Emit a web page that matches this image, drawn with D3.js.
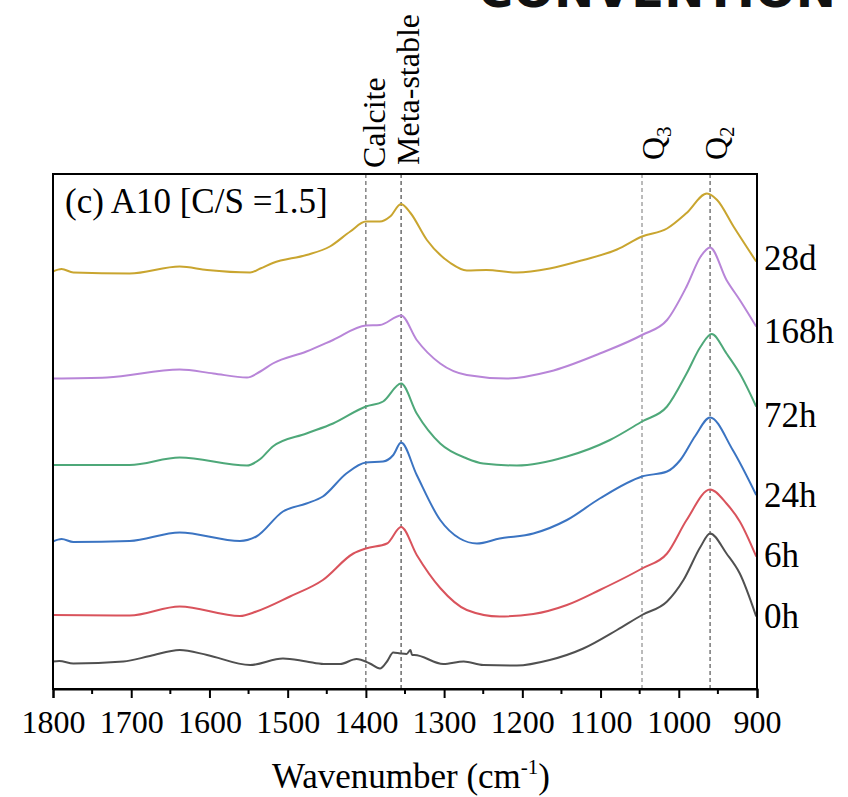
<!DOCTYPE html>
<html>
<head>
<meta charset="utf-8">
<script src="https://cdn.jsdelivr.net/npm/d3@7"></script>
<style>
  html, body { margin: 0; padding: 0; background: #fff; }
  svg { display: block; }
</style>
</head>
<body>
<svg id="chart" width="848" height="797"></svg>
<script>
// FTIR spectra of A10 paste at successive ages, stacked with offsets (a.u.)
// each series: [wavenumber (cm-1), absorbance + stacking offset]
const series0h = [
  [1800, 0.55], [1792, 0.56], [1774, 0.51], [1710, 0.55], [1676, 0.66], [1638, 0.78],
  [1603, 0.68], [1548, 0.48], [1506, 0.61], [1476, 0.55], [1454, 0.50], [1433, 0.50],
  [1412, 0.60], [1395, 0.51], [1382, 0.41], [1373, 0.55], [1365, 0.73], [1356, 0.71],
  [1348, 0.70], [1343, 0.78], [1341, 0.68], [1338, 0.68], [1301, 0.50], [1275, 0.55],
  [1250, 0.48], [1207, 0.47], [1165, 0.58], [1122, 0.81], [1079, 1.18], [1047, 1.48],
  [1015, 1.75], [994, 2.18], [972, 2.85], [960, 3.11], [939, 2.71], [922, 2.31], [901, 1.45]
];
const series6h = [
  [1800, 1.48], [1702, 1.47], [1638, 1.65], [1561, 1.46], [1540, 1.55], [1497, 1.85],
  [1455, 2.18], [1416, 2.71], [1400, 2.81], [1373, 2.91], [1355, 3.24], [1335, 2.68],
  [1305, 2.02], [1271, 1.58], [1229, 1.45], [1186, 1.50], [1143, 1.68], [1101, 1.98],
  [1047, 2.41], [1015, 2.71], [990, 3.38], [960, 3.99], [939, 3.71], [922, 3.35], [901, 2.65]
];
const series24h = [
  [1800, 2.95], [1789, 3.00], [1774, 2.94], [1702, 2.96], [1638, 3.13], [1561, 2.96],
  [1540, 3.05], [1506, 3.55], [1476, 3.71], [1455, 3.85], [1425, 4.31], [1400, 4.53],
  [1378, 4.55], [1365, 4.68], [1355, 4.93], [1335, 4.28], [1305, 3.38], [1280, 3.01],
  [1258, 2.91], [1229, 3.01], [1186, 3.11], [1143, 3.38], [1101, 3.81], [1047, 4.25],
  [1015, 4.35], [998, 4.58], [979, 5.06], [960, 5.43], [931, 4.78], [901, 3.88]
];
const series72h = [
  [1800, 4.48], [1702, 4.48], [1638, 4.63], [1552, 4.47], [1535, 4.60], [1519, 4.85],
  [1476, 5.11], [1442, 5.31], [1400, 5.65], [1378, 5.75], [1355, 6.11], [1335, 5.51],
  [1305, 4.91], [1271, 4.61], [1250, 4.51], [1207, 4.47], [1143, 4.65], [1088, 4.98],
  [1047, 5.35], [1015, 5.65], [990, 6.31], [972, 6.85], [958, 7.10], [939, 6.71],
  [922, 6.31], [901, 5.65]
];
const series168h = [
  [1800, 6.21], [1731, 6.23], [1638, 6.39], [1595, 6.31], [1552, 6.23], [1535, 6.35],
  [1519, 6.51], [1476, 6.75], [1442, 6.98], [1400, 7.27], [1382, 7.28], [1355, 7.47],
  [1335, 6.98], [1305, 6.51], [1271, 6.28], [1220, 6.21], [1165, 6.35], [1101, 6.71],
  [1047, 7.08], [1015, 7.38], [990, 8.05], [972, 8.65], [960, 8.83], [939, 8.18],
  [922, 7.78], [901, 7.25]
];
const series28d = [
  [1800, 8.35], [1789, 8.40], [1774, 8.33], [1702, 8.31], [1638, 8.45], [1603, 8.38],
  [1548, 8.33], [1535, 8.41], [1519, 8.52], [1476, 8.68], [1446, 8.85], [1420, 9.15],
  [1400, 9.35], [1382, 9.35], [1369, 9.45], [1355, 9.70], [1343, 9.52], [1322, 8.98],
  [1292, 8.52], [1271, 8.37], [1246, 8.38], [1207, 8.33], [1165, 8.41], [1122, 8.58],
  [1079, 8.79], [1047, 9.05], [1015, 9.21], [990, 9.52], [964, 9.91], [951, 9.78],
  [930, 9.25], [901, 8.55]
];

const seriesNames = ["0h", "6h", "24h", "72h", "168h", "28d"];
const seriesData = [series0h, series6h, series24h, series72h, series168h, series28d];
const seriesColors = ["#505050", "#d9535c", "#3b74c2", "#4ea879", "#b885d8", "#c9a52f"];

// marker bands (cm-1)
const bandNames = ["Calcite", "Meta-stable", "Q3", "Q2"];
const bandPositions = [1400, 1355, 1047, 960];

const xTicks = [1800, 1700, 1600, 1500, 1400, 1300, 1200, 1100, 1000, 900];
const xMinorTicks = [1750, 1650, 1550, 1450, 1350, 1250, 1150, 1050, 950];

// ---- layout ----
const frame = { left: 53, right: 757, top: 174, bottom: 689 };
const serif = "'Liberation Serif', 'Times New Roman', Times, serif";
const svg = d3.select("#chart");

const x = d3.scaleLinear().domain([1800, 900]).range([frame.left, frame.right]);
const y = d3.scaleLinear().domain([0, 10.3]).range([frame.bottom, frame.top]);

// banner text running off the top edge
svg.append("text")
  .attr("x", 478).attr("y", 7)
  .attr("font-family", "'DejaVu Sans', sans-serif")
  .attr("font-weight", "bold")
  .attr("font-size", 48)
  .attr("fill", "#111")
  .text("CONVENTION");

// dashed band markers
const bandColors = ["#444", "#222", "#777", "#333"];
svg.append("g").selectAll("line")
  .data(bandPositions)
  .join("line")
  .attr("x1", d => x(d)).attr("x2", d => x(d))
  .attr("y1", frame.top).attr("y2", frame.bottom)
  .attr("stroke", (d, i) => bandColors[i])
  .attr("stroke-width", 1)
  .attr("stroke-dasharray", "4,3");

// spectra
const line = d3.line()
  .x(d => x(d[0]))
  .y(d => y(d[1]))
  .curve(d3.curveMonotoneX);

svg.append("g").selectAll("path")
  .data(seriesData)
  .join("path")
  .attr("d", line)
  .attr("fill", "none")
  .attr("stroke", (d, i) => seriesColors[i])
  .attr("stroke-width", 2)
  .attr("stroke-linejoin", "round");

// frame
svg.append("rect")
  .attr("x", frame.left).attr("y", frame.top)
  .attr("width", frame.right - frame.left)
  .attr("height", frame.bottom - frame.top)
  .attr("fill", "none")
  .attr("stroke", "#000")
  .attr("stroke-width", 2);

// bottom axis
const axisG = svg.append("g")
  .attr("transform", `translate(0,${frame.bottom})`)
  .call(d3.axisBottom(x).tickValues(xTicks).tickSize(9).tickPadding(12).tickFormat(d3.format("d")));
axisG.select(".domain").attr("stroke-width", 2);
axisG.selectAll(".tick line").attr("stroke-width", 2);
axisG.selectAll("text")
  .attr("font-family", serif)
  .attr("font-size", 32)
  .attr("fill", "#000");

svg.append("g")
  .attr("transform", `translate(0,${frame.bottom})`)
  .selectAll("line")
  .data(xMinorTicks)
  .join("line")
  .attr("x1", d => x(d)).attr("x2", d => x(d))
  .attr("y1", 0).attr("y2", 5)
  .attr("stroke", "#000")
  .attr("stroke-width", 2);

// axis title
const title = svg.append("text")
  .attr("x", 411).attr("y", 788)
  .attr("text-anchor", "middle")
  .attr("font-family", serif)
  .attr("font-size", 35)
  .attr("fill", "#000");
title.append("tspan").text("Wavenumber (cm");
title.append("tspan").attr("dy", -14).attr("font-size", 21).text("-1");
title.append("tspan").attr("dy", 14).text(")");

// panel label
svg.append("text")
  .attr("x", 65).attr("y", 213)
  .attr("font-family", serif)
  .attr("font-size", 35)
  .attr("fill", "#000")
  .text("(c) A10 [C/S =1.5]");

// rotated band labels
const bandLabelX = [385, 419, 664, 727];
const bandLabelY = [168, 165, 160, 160];
bandNames.forEach((name, i) => {
  const t = svg.append("text")
    .attr("transform", `translate(${bandLabelX[i]},${bandLabelY[i]}) rotate(-90)`)
    .attr("font-family", serif)
    .attr("font-size", 32)
    .attr("fill", "#000");
  if (name.startsWith("Q")) {
    t.append("tspan").text("Q");
    t.append("tspan").attr("dy", 7).attr("font-size", 21).text(name.slice(1));
  } else {
    t.text(name);
  }
});

// series labels at right edge
const labelBaselines = [628, 567, 507, 427, 343, 270];
svg.append("g").selectAll("text")
  .data(seriesNames)
  .join("text")
  .attr("x", 764)
  .attr("y", (d, i) => labelBaselines[i])
  .attr("font-family", serif)
  .attr("font-size", 35)
  .attr("fill", "#000")
  .text(d => d);
</script>
</body>
</html>
